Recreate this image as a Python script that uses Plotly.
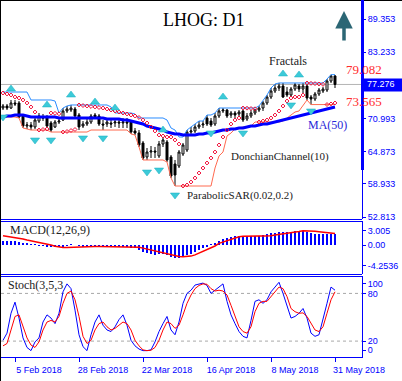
import plotly.graph_objects as go

# ---------------- data ----------------
bars = list(range(84))
date_tick_bars = [3, 19, 35, 51, 67, 83]
date_tick_text = ["5 Feb 2018", "28 Feb 2018", "22 Mar 2018", "16 Apr 2018", "8 May 2018", "31 May 2018"]

price_tick_vals = [89.353, 83.233, 70.993, 64.873, 58.933, 52.813]
price_tick_text = ["89.353", "83.233", "70.993", "64.873", "58.933", "52.813"]
last_price = 77.276
last_price_text = "77.276"
dc_upper_text = "79.082"
dc_lower_text = "73.565"

macd_tick_vals = [3.005, 0.0, -4.2536]
macd_tick_text = ["3.005", "0.00", "-4.2536"]

stoch_tick_vals = [92.5, 80, 20, 8.5]
stoch_tick_text = ["100", "80", "20", "0"]
stoch_levels = [80, 20]

open_ = [72.93, 73.30, 72.93, 73.86, 73.86, 71.46, 69.61, 69.80, 69.43, 70.53,
         71.27, 71.27, 70.17, 69.43, 70.35, 70.72, 72.38, 72.56, 72.75, 71.64,
         69.61, 69.98, 70.35, 71.64, 71.46, 69.98, 69.98, 70.17, 70.17, 70.35,
         70.17, 70.35, 70.35, 68.69, 68.32, 66.48, 63.89, 64.81, 65.00, 64.08,
         66.29, 66.66, 63.89, 62.60, 62.23, 64.45, 65.18, 68.50, 68.69, 69.43,
         69.80, 71.09, 70.53, 69.98, 71.46, 72.38, 72.56, 71.64, 72.01, 71.83,
         72.38, 70.90, 71.46, 72.01, 72.56, 72.93, 73.86, 74.96, 76.07, 76.62,
         76.99, 75.88, 75.33, 76.44, 76.99, 76.44, 76.99, 74.96, 74.59, 75.52,
         76.07, 76.25, 77.91, 78.84]
high = [73.67, 73.67, 74.41, 74.41, 74.22, 71.83, 70.35, 70.35, 71.09, 72.01,
        71.83, 71.64, 70.53, 70.72, 71.09, 72.93, 73.30, 73.49, 73.12, 72.01,
        70.53, 70.90, 71.83, 72.01, 71.83, 70.72, 70.90, 70.72, 70.90, 71.09,
        71.09, 71.09, 70.72, 69.24, 68.87, 66.85, 65.55, 65.92, 65.74, 66.85,
        67.58, 67.03, 64.26, 63.34, 65.18, 66.48, 68.87, 69.43, 69.98, 70.53,
        70.53, 71.64, 71.09, 72.01, 72.93, 72.93, 72.75, 72.38, 72.38, 72.56,
        72.56, 72.01, 72.56, 72.75, 73.30, 74.22, 75.33, 76.62, 77.36, 77.55,
        77.55, 76.81, 76.81, 77.55, 77.36, 77.55, 77.36, 75.33, 75.88, 76.62,
        76.81, 78.28, 79.082, 79.02]
low = [72.56, 72.56, 72.75, 73.30, 71.09, 69.24, 69.06, 68.87, 69.06, 70.17,
       70.53, 69.24, 68.50, 69.24, 69.98, 70.53, 72.01, 72.19, 71.09, 68.87,
       69.24, 69.61, 69.98, 70.90, 69.61, 68.87, 69.43, 69.24, 69.43, 69.24,
       69.24, 69.24, 68.14, 67.95, 65.74, 63.34, 63.34, 63.71, 63.71, 63.71,
       65.74, 62.97, 60.02, 58.54, 61.86, 64.08, 64.81, 67.77, 68.32, 69.06,
       69.24, 69.61, 69.43, 69.61, 71.09, 72.01, 71.09, 71.09, 71.09, 71.27,
       70.35, 70.53, 71.09, 71.64, 72.19, 72.38, 73.49, 74.59, 75.70, 76.07,
       74.78, 74.96, 74.96, 76.07, 75.88, 75.70, 74.41, 73.565, 74.22, 75.15,
       75.70, 75.88, 77.55, 76.62]
close = [73.30, 72.93, 73.86, 73.67, 71.27, 69.61, 69.80, 69.43, 70.72, 71.46,
         71.09, 69.61, 68.87, 70.35, 70.53, 72.38, 72.75, 72.93, 71.46, 69.43,
         69.98, 70.35, 71.46, 71.27, 69.98, 69.80, 70.35, 69.98, 70.35, 70.17,
         70.35, 70.17, 68.50, 68.32, 66.11, 63.71, 64.81, 65.00, 64.81, 66.29,
         67.03, 63.34, 60.39, 60.57, 64.81, 66.11, 68.50, 68.69, 69.43, 69.80,
         69.98, 69.98, 69.80, 71.46, 72.38, 72.56, 71.46, 72.01, 71.64, 72.19,
         70.72, 71.46, 72.01, 72.56, 72.93, 73.86, 74.96, 76.07, 76.62, 76.99,
         74.96, 75.33, 76.44, 77.18, 76.44, 76.99, 74.78, 74.59, 75.52, 76.25,
         76.44, 77.91, 78.84, 77.276]

ma50 = [71.27, 71.46, 71.46, 71.64, 71.64, 71.64, 71.46, 71.27, 71.27, 71.27,
        71.27, 71.27, 71.27, 71.27, 71.09, 71.09, 71.09, 71.09, 71.09, 71.09,
        71.09, 71.09, 71.09, 71.09, 71.09, 71.09, 70.90, 70.90, 70.90, 70.90,
        70.72, 70.72, 70.53, 70.35, 70.17, 69.98, 69.61, 69.43, 69.24, 69.06,
        68.87, 68.50, 68.32, 68.14, 68.14, 67.95, 67.95, 67.95, 67.95, 68.14,
        68.14, 68.32, 68.32, 68.50, 68.69, 68.87, 68.87, 69.06, 69.06, 69.24,
        69.24, 69.43, 69.61, 69.61, 69.80, 69.98, 69.98, 70.17, 70.35, 70.53,
        70.72, 70.90, 71.09, 71.27, 71.46, 71.64, 71.83, 72.01, 72.19, 72.38,
        72.56, 72.75, 72.93, 73.12]

dc_upper = [75.88, 75.88, 75.88, 75.88, 75.88, 75.88, 75.88, 74.41, 74.41, 74.41,
            74.41, 74.41, 74.41, 74.22, 72.01, 72.93, 73.30, 73.49, 73.49, 73.49,
            73.49, 73.49, 73.49, 73.49, 73.49, 73.49, 73.49, 73.12, 72.01, 72.01,
            72.01, 72.01, 72.01, 71.83, 71.09, 71.09, 71.09, 71.09, 71.09, 71.09,
            71.09, 70.72, 69.24, 68.87, 67.58, 67.58, 68.87, 69.43, 69.98, 70.53,
            70.53, 71.64, 71.64, 72.01, 72.93, 72.93, 72.93, 72.93, 72.93, 72.93,
            72.93, 72.93, 72.93, 72.93, 73.30, 74.22, 75.33, 76.62, 77.36, 77.55,
            77.55, 77.55, 77.55, 77.55, 77.55, 77.55, 77.55, 77.55, 77.55, 77.55,
            77.55, 78.28, 79.082, 79.082]
dc_lower = [71.27, 71.27, 71.27, 71.27, 71.09, 69.24, 69.06, 68.87, 68.87, 68.87,
            68.87, 68.87, 68.50, 68.50, 68.50, 68.50, 68.50, 68.50, 68.50, 68.50,
            68.50, 68.50, 68.87, 68.87, 68.87, 68.87, 68.87, 68.87, 68.87, 68.87,
            68.87, 68.87, 68.14, 67.95, 65.74, 63.34, 63.34, 63.34, 63.34, 63.34,
            63.34, 62.97, 60.02, 58.54, 58.54, 58.54, 58.54, 58.54, 58.54, 58.54,
            58.54, 58.54, 58.54, 61.86, 64.08, 64.81, 67.77, 68.32, 69.06, 69.24,
            69.43, 69.43, 69.61, 70.35, 70.35, 70.35, 70.35, 70.35, 70.35, 70.35,
            70.53, 71.09, 71.64, 72.19, 72.38, 73.49, 74.41, 73.565, 73.565, 73.565,
            73.565, 73.565, 73.565, 73.565]

sar = [75.70, 75.52, 75.33, 74.96, 74.78, 74.41, 73.86, 73.12, 72.19, 68.87,
       68.97, 69.06, 72.01, 71.95, 71.86, 68.50, 68.60, 68.78, 68.97, 73.49,
       73.39, 73.30, 73.21, 73.12, 73.02, 72.93, 72.75, 72.56, 72.38, 72.19,
       72.01, 71.83, 71.64, 71.46, 71.18, 70.72, 70.17, 69.43, 68.69, 67.95,
       67.77, 67.58, 67.58, 67.03, 66.29, 58.54, 58.73, 59.28, 60.02, 60.94,
       61.86, 62.79, 63.71, 64.81, 66.11, 67.58, 68.87, 69.98, 70.72, 71.09,
       72.93, 72.90, 72.84, 72.79, 70.35, 70.53, 70.72, 71.09, 71.64, 72.38,
       73.30, 74.22, 74.78, 74.96, 74.96, 75.33, 77.55, 77.49, 77.43, 77.36,
       77.29, 73.57, 73.68, 73.86]

fractal_up_bars = [2, 11, 17, 23, 28, 40, 55, 70, 74]
fractal_up_price = [76.44, 73.49, 75.33, 74.04, 72.93, 68.87, 74.96, 79.21, 79.02]
fractal_dn_bars = [0, 8, 12, 20, 25, 36, 39, 43, 52, 60, 72, 77]
fractal_dn_price = [71.27, 67.03, 67.03, 67.40, 67.40, 61.12, 61.49, 56.88, 68.32, 68.32, 73.49, 72.38]

macd_hist = [0.90, 0.90, 0.85, 0.80, 0.60, 0.45, 0.35, 0.20, 0.05, -0.10,
             -0.20, -0.30, -0.45, -0.50, -0.45, -0.25, -0.10, 0.05, 0.00, -0.20,
             -0.30, -0.35, -0.25, -0.25, -0.35, -0.40, -0.35, -0.40, -0.35, -0.40,
             -0.40, -0.40, -0.55, -0.70, -1.00, -1.40, -1.65, -1.80, -2.00, -1.95,
             -1.85, -2.15, -2.55, -2.75, -2.65, -2.45, -2.10, -1.90, -1.55, -1.10,
             -0.65, -0.30, 0.05, 0.50, 0.90, 1.25, 1.55, 1.75, 1.85, 1.90,
             1.85, 1.85, 1.85, 1.85, 1.90, 2.00, 2.20, 2.40, 2.55, 2.70,
             2.70, 2.65, 2.70, 2.80, 2.85, 2.80, 2.60, 2.45, 2.35, 2.30,
             2.25, 2.30, 2.35, 2.35]
macd_signal = [1.90, 1.80, 1.70, 1.60, 1.45, 1.25, 1.05, 0.90, 0.70, 0.50,
               0.35, 0.20, 0.00, -0.25, -0.45, -0.50, -0.50, -0.45, -0.40, -0.35,
               -0.35, -0.35, -0.30, -0.30, -0.30, -0.30, -0.30, -0.35, -0.35, -0.35,
               -0.35, -0.35, -0.35, -0.40, -0.45, -0.65, -0.85, -1.00, -1.25, -1.55,
               -1.75, -1.95, -2.10, -2.25, -2.40, -2.45, -2.40, -2.30, -2.05, -1.70,
               -1.40, -1.05, -0.70, -0.20, 0.35, 0.65, 0.95, 1.20, 1.45, 1.70,
               1.80, 1.85, 1.85, 1.85, 1.85, 1.85, 1.85, 1.90, 2.05, 2.15,
               2.25, 2.35, 2.50, 2.65, 2.80, 2.95, 2.95, 2.90, 2.85, 2.75,
               2.65, 2.55, 2.50, 2.40]

stoch_k = [21, 30, 55, 69, 49, 24, 12, 8, 19, 24,
           44, 53, 49, 42, 55, 82, 92, 86, 59, 28,
           13, 8, 28, 44, 53, 40, 34, 32, 38, 47,
           53, 40, 21, 14, 10, 8, 8, 9, 19, 32,
           42, 51, 34, 28, 44, 67.5, 80, 84, 90.5, 92,
           93, 90, 80, 84, 88, 92, 70, 53, 42, 32,
           26, 24, 46, 70, 72, 67.5, 72, 82, 88, 94,
           80, 63, 49, 51, 55, 61, 49, 30, 26, 28,
           46, 67.5, 88, 84]
stoch_d = [14, 17, 34, 51, 53, 39, 24, 15, 12, 19,
           34, 44, 46, 44, 51, 67.5, 80, 83, 72, 51,
           26, 17, 21, 34, 42, 44, 38, 34, 36, 40,
           44, 42, 34, 21, 14, 9, 8, 8.5, 12, 21,
           34, 44, 42, 36, 40, 53, 67.5, 78, 86, 90,
           92, 91.5, 86, 83, 84, 83, 78, 65, 51, 38,
           32, 30, 38, 57, 67.5, 70, 70, 76, 82, 88,
           86, 76, 61, 57, 55, 55.5, 51, 42, 34, 32,
           38, 55, 72, 82]

# ---------------- geometry helpers ----------------
W, H = 402, 381
ML, MR, MT, MB = 1, 40, 1, 24
PW = W - ML - MR
PH = H - MT - MB


def px_x(px):
    return (px - ML) / PW


def px_y(py):
    return (H - MB - py) / PH


BLUE = "#0000FF"
SERIF = "Liberation Serif"
SANS = "Liberation Sans"
FRACTAL = "#3CCAD8"

fig = go.Figure()

# ---- main panel ----
fig.add_trace(go.Candlestick(
    x=bars, open=open_, high=high, low=low, close=close,
    increasing=dict(line=dict(color="black", width=1), fillcolor="white"),
    decreasing=dict(line=dict(color="black", width=1), fillcolor="black"),
    whiskerwidth=0, xaxis="x", yaxis="y", hoverinfo="skip", showlegend=False))
fig.add_trace(go.Scatter(x=bars, y=dc_upper, mode="lines", line=dict(color="#2B8CFF", width=1),
                         xaxis="x", yaxis="y", hoverinfo="skip", showlegend=False))
fig.add_trace(go.Scatter(x=bars, y=dc_lower, mode="lines", line=dict(color="#FF6A50", width=1),
                         xaxis="x", yaxis="y", hoverinfo="skip", showlegend=False))
fig.add_trace(go.Scatter(x=bars, y=ma50, mode="lines", line=dict(color=BLUE, width=3),
                         xaxis="x", yaxis="y", hoverinfo="skip", showlegend=False))
fig.add_trace(go.Scatter(x=bars, y=sar, mode="markers",
                         marker=dict(symbol="diamond-open", size=3, color="#F0103A", line=dict(width=1)),
                         xaxis="x", yaxis="y", hoverinfo="skip", showlegend=False))
fig.add_trace(go.Scatter(x=fractal_up_bars, y=fractal_up_price, mode="markers",
                         marker=dict(symbol="triangle-up", size=8, color=FRACTAL,
                                     line=dict(color="#1AAFC0", width=0.5)),
                         xaxis="x", yaxis="y", hoverinfo="skip", showlegend=False))
fig.add_trace(go.Scatter(x=fractal_dn_bars, y=fractal_dn_price, mode="markers",
                         marker=dict(symbol="triangle-down", size=8, color=FRACTAL,
                                     line=dict(color="#1AAFC0", width=0.5)),
                         xaxis="x", yaxis="y", hoverinfo="skip", showlegend=False))

# ---- MACD panel ----
fig.add_trace(go.Bar(x=bars, y=macd_hist, width=0.25, marker=dict(color=BLUE, line=dict(width=0)),
                     xaxis="x", yaxis="y2", hoverinfo="skip", showlegend=False))
fig.add_trace(go.Scatter(x=bars, y=macd_signal, mode="lines", line=dict(color="#FF0000", width=1.5),
                         xaxis="x", yaxis="y2", hoverinfo="skip", showlegend=False))

# ---- Stochastic panel ----
fig.add_trace(go.Scatter(x=bars, y=stoch_k, mode="lines", line=dict(color=BLUE, width=1),
                         xaxis="x", yaxis="y3", hoverinfo="skip", showlegend=False))
fig.add_trace(go.Scatter(x=bars, y=stoch_d, mode="lines", line=dict(color="#FF0000", width=1),
                         xaxis="x", yaxis="y3", hoverinfo="skip", showlegend=False))

tickfont = dict(family=SANS, size=9, color=BLUE)
axis_common = dict(side="right", anchor="x", showgrid=False, zeroline=False, showline=True,
                   linecolor=BLUE, linewidth=1, ticks="outside", ticklen=3, tickcolor=BLUE,
                   tickfont=tickfont, automargin=False, fixedrange=True)

shapes = []
shapes.append(dict(type="line", xref="paper", yref="y", x0=0, x1=1, y0=last_price, y1=last_price,
                   line=dict(color="#B4B4B4", width=1), layer="below"))
for lvl in stoch_levels:
    shapes.append(dict(type="line", xref="paper", yref="y3", x0=0, x1=1, y0=lvl, y1=lvl,
                       line=dict(color="#A8A8A8", width=1, dash="3px,3px"), layer="below"))
for py in (219.5, 221.5, 274.5, 276.5):
    shapes.append(dict(type="line", xref="paper", yref="paper", x0=px_x(0), x1=1, y0=px_y(py), y1=px_y(py),
                       line=dict(color=BLUE, width=1)))
# outer frame (left / top)
shapes.append(dict(type="line", xref="paper", yref="paper", x0=px_x(0.5), x1=px_x(0.5), y0=px_y(0), y1=px_y(H),
                   line=dict(color="black", width=1)))
shapes.append(dict(type="line", xref="paper", yref="paper", x0=px_x(0), x1=px_x(W), y0=px_y(0.5), y1=px_y(0.5),
                   line=dict(color="black", width=1)))
# thick part of the price scale line
shapes.append(dict(type="line", xref="paper", yref="paper", x0=px_x(362.5), x1=px_x(362.5), y0=px_y(0), y1=px_y(170),
                   line=dict(color=BLUE, width=3)))
# current price box
shapes.append(dict(type="rect", xref="paper", yref="y", x0=px_x(362), x1=px_x(W), ysizemode="pixel",
                   yanchor=last_price, y0=-7, y1=6, fillcolor=BLUE, line=dict(width=0)))


def label(px, py, text, size, color, family=SERIF, xanchor="left"):
    return dict(x=px_x(px), y=px_y(py), xref="paper", yref="paper", text=text, showarrow=False,
                xanchor=xanchor, yanchor="middle", font=dict(family=family, size=size, color=color))


annotations = [
    label(204, 20, "LHOG: D1", 18, "black", xanchor="center"),
    label(288, 61, "Fractals", 12, "#222222", xanchor="center"),
    label(344, 69, dc_upper_text, 13, "#FF2D2D"),
    label(344, 102, dc_lower_text, 13, "#FF2D2D"),
    label(306, 125, "MA(50)", 12, "#2828D8"),
    label(229, 156, "DonchianChannel(10)", 11, "#222222"),
    label(185, 195, "ParabolicSAR(0.02,0.2)", 11, "#222222"),
    label(8, 230, "MACD(12,26,9)", 12, "#222222"),
    label(6, 285, "Stoch(3,5,3", 12, "#222222"),
    dict(x=px_x(365), y=last_price, xref="paper", yref="y", text=last_price_text, showarrow=False,
         xanchor="left", yanchor="middle", font=dict(family=SANS, size=9, color="white")),
    dict(x=px_x(344), y=px_y(11), xref="paper", yref="paper", text="", showarrow=True,
         ax=0, ay=31, arrowhead=2, arrowsize=1, arrowwidth=3.5, arrowcolor="#2B6674"),
]

fig.update_layout(
    width=W, height=H,
    margin=dict(l=ML, r=MR, t=MT, b=MB, pad=0),
    paper_bgcolor="white", plot_bgcolor="white",
    showlegend=False, hovermode=False, bargap=0,
    xaxis=dict(domain=[0, 1], anchor="y3", range=[-0.5, 89.75], showgrid=False, zeroline=False,
               showline=True, linecolor=BLUE, linewidth=1, ticks="outside", ticklen=4, tickcolor=BLUE,
               tickvals=date_tick_bars, ticktext=date_tick_text, tickfont=tickfont,
               ticklabelshift=24, rangeslider=dict(visible=False), automargin=False, fixedrange=True),
    yaxis=dict(domain=[px_y(219), 1], range=[52.453, 92.674],
               tickvals=price_tick_vals, ticktext=price_tick_text, **axis_common),
    yaxis2=dict(domain=[px_y(274), px_y(221)], range=[-6.01, 4.974],
                tickvals=macd_tick_vals, ticktext=macd_tick_text, **axis_common),
    yaxis3=dict(domain=[0, px_y(276)], range=[0, 101.9],
                tickvals=stoch_tick_vals, ticktext=stoch_tick_text, **axis_common),
    shapes=shapes, annotations=annotations,
)

fig.write_html("out.html", config={"displayModeBar": False},
               post_script="document.body.style.margin='0';document.body.style.overflow='hidden';")
